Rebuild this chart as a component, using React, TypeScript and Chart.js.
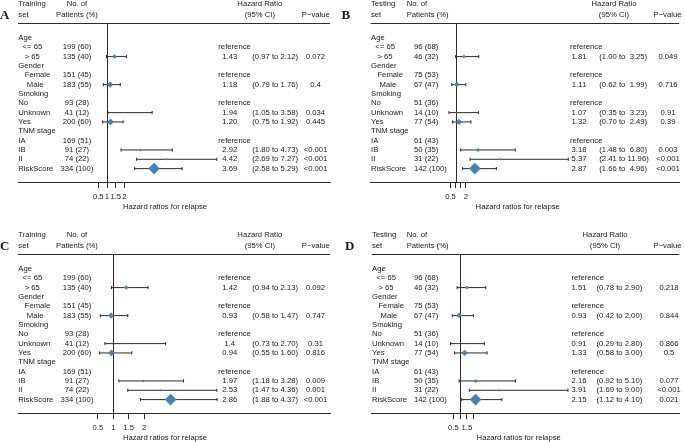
import React, { useEffect, useRef } from "react";
import { Chart, registerables } from "chart.js";

Chart.register(...registerables);

// ---------- DATA ----------
const rowLabels = [
  "Age", "  <= 65", "   > 65", "Gender", "   Female", "    Male",
  "Smoking", "No", "Unknown", "Yes", "TNM stage", "IA", "IB", "II", "RiskScore",
];
const referenceRows = [1, 4, 7, 11];
const estimateRows = [2, 5, 8, 9, 12, 13, 14];

const trainingPatients = [null, 199, 135, null, 151, 183, null, 93, 41, 200, null, 169, 91, 74, 334];
const trainingPercent = [null, 60, 40, null, 45, 55, null, 28, 12, 60, null, 51, 27, 22, 100];
const testingPatients = [null, 96, 46, null, 75, 67, null, 51, 14, 77, null, 61, 50, 31, 142];
const testingPercent = [null, 68, 32, null, 53, 47, null, 36, 10, 54, null, 43, 35, 22, 100];

// Panel A (training set)
const hrA = ["1.43", "1.18", "1.94", "1.20", "2.92", "4.42", "3.69"];
const loA = ["0.97", "0.79", "1.05", "0.75", "1.80", "2.69", "2.58"];
const hiA = ["2.12", "1.76", "3.58", "1.92", "4.73", "7.27", "5.29"];
const pA = ["0.072", "0.4", "0.034", "0.445", "<0.001", "<0.001", "<0.001"];

// Panel B (testing set)
const hrB = ["1.81", "1.11", "1.07", "1.32", "3.18", "5.37", "2.87"];
const loB = ["1.00", "0.62", "0.35", "0.70", "1.48", "2.41", "1.66"];
const hiB = ["3.25", "1.99", "3.23", "2.49", "6.80", "11.96", "4.96"];
const pB = ["0.049", "0.716", "0.91", "0.39", "0.003", "<0.001", "<0.001"];

// Panel C (training set)
const hrC = ["1.42", "0.93", "1.4", "0.94", "1.97", "2.53", "2.86"];
const loC = ["0.94", "0.58", "0.73", "0.55", "1.18", "1.47", "1.88"];
const hiC = ["2.13", "1.47", "2.70", "1.60", "3.28", "4.36", "4.37"];
const pC = ["0.092", "0.747", "0.31", "0.816", "0.009", "0.001", "<0.001"];

// Panel D (testing set)
const hrD = ["1.51", "0.93", "0.91", "1.33", "2.16", "3.91", "2.15"];
const loD = ["0.78", "0.42", "0.29", "0.58", "0.92", "1.69", "1.12"];
const hiD = ["2.90", "2.00", "2.80", "3.00", "5.10", "9.00", "4.10"];
const pD = ["0.218", "0.844", "0.866", "0.5", "0.077", "<0.001", "0.021"];

const tickValues = [0.5, 1, 1.5, 2];
const tickLabelsA = ["0.5", "1", "1.5", "2"];
const tickLabelsB = ["0.5", "", "", "2"];
const tickLabelsC = ["0.5", "1", "1.5", "2"];
const tickLabelsD = ["0.5", "", "1.5", ""];

const axisTitle = "Hazard ratios for relapse";

// ---------- STYLE / LAYOUT ----------
const W = 345;
const H = 211;
const FONT = '"Liberation Sans", Arial, Helvetica, sans-serif';
const FS = 7.7;
const TXT = "#1a1a1a";
const LINE = "#2b2b2b";
const BLUE = "#4682b4";

type Layout = {
  left: number; top: number; letter: string; letterX: number; setLabel: string;
  xMin: number; xMax: number; padL: number; padR: number;
  numX: number; numAlign: CanvasTextAlign; numHeadX: number; numHeadAlign: CanvasTextAlign;
  refX: number; estX: number; ciX: number; pX: number; hrHeadX: number; pHeadX: number;
};

type PanelData = {
  patients: (number | null)[]; percent: (number | null)[];
  hr: string[]; lo: string[]; hi: string[]; p: string[]; tickLabels: string[];
};

const panels: { data: PanelData; layout: Layout }[] = [
  {
    data: { patients: trainingPatients, percent: trainingPercent, hr: hrA, lo: loA, hi: hiA, p: pA, tickLabels: tickLabelsA },
    layout: {
      left: 0, top: 0, letter: "A", letterX: 0, setLabel: "Training",
      xMin: -4.086, xMax: 13.743, padL: 18, padR: 15,
      numX: 77, numAlign: "center", numHeadX: 77, numHeadAlign: "center",
      refX: 218.3, estX: 229.7, ciX: 252.3, pX: 315.5, hrHeadX: 259.8, pHeadX: 315.8,
    },
  },
  {
    data: { patients: testingPatients, percent: testingPercent, hr: hrB, lo: loB, hi: hiB, p: pB, tickLabels: tickLabelsB },
    layout: {
      left: 340, top: 0, letter: "B", letterX: 1.5, setLabel: "Testing",
      xMin: -7.27, xMax: 22.76, padL: 30.7, padR: 2,
      numX: 74, numAlign: "left", numHeadX: 66.7, numHeadAlign: "left",
      refX: 230, estX: 239, ciX: 259.3, pX: 328, hrHeadX: 274, pHeadX: 327.5,
    },
  },
  {
    data: { patients: trainingPatients, percent: trainingPercent, hr: hrC, lo: loC, hi: hiC, p: pC, tickLabels: tickLabelsC },
    layout: {
      left: 0, top: 231, letter: "C", letterX: 0, setLabel: "Training",
      xMin: -2.094, xMax: 8.036, padL: 18, padR: 15,
      numX: 77, numAlign: "center", numHeadX: 77, numHeadAlign: "center",
      refX: 218.3, estX: 229.7, ciX: 252.3, pX: 315.5, hrHeadX: 259.8, pHeadX: 315.8,
    },
  },
  {
    data: { patients: testingPatients, percent: testingPercent, hr: hrD, lo: loD, hi: hiD, p: pD, tickLabels: tickLabelsD },
    layout: {
      left: 340, top: 231, letter: "D", letterX: 5, setLabel: "Testing",
      xMin: -5.557, xMax: 17.25, padL: 31.7, padR: 2,
      numX: 74, numAlign: "left", numHeadX: 66.7, numHeadAlign: "left",
      refX: 231.5, estX: 239, ciX: 256.5, pX: 329, hrHeadX: 265, pHeadX: 327.5,
    },
  },
];

function buildChart(canvas: HTMLCanvasElement, data: PanelData, L: Layout) {
  const hrV = data.hr.map(parseFloat);
  const loV = data.lo.map(parseFloat);
  const hiV = data.hi.map(parseFloat);
  const nEst = estimateRows.map((r) => data.patients[r] as number);
  const nMin = Math.min(...nEst);
  const nMax = Math.max(...nEst);
  const radii = nEst.map((n) => 0.6 + (5.2 * (n - nMin)) / (nMax - nMin));
  const hiWidth = Math.max(...data.hi.map((s) => s.length));

  const ciDatasets = estimateRows.map((r, i) => ({
    label: "ci" + i,
    data: [{ x: loV[i], y: r }, { x: hiV[i], y: r }],
    showLine: true,
    pointRadius: 0,
    borderColor: LINE,
    borderWidth: 1,
  }));

  const plugin = {
    id: "forestText" + L.letter,
    beforeDatasetsDraw(chart: any) {
      const { ctx, chartArea } = chart;
      const xs = chart.scales.x;
      ctx.save();
      ctx.strokeStyle = LINE;
      ctx.lineWidth = 1;
      ctx.beginPath();
      const hy = Math.round(chartArea.top) + 0.5;
      ctx.moveTo(chartArea.left, hy);
      ctx.lineTo(chartArea.right, hy);
      const vx = Math.round(xs.getPixelForValue(1)) + 0.5;
      ctx.moveTo(vx, chartArea.top);
      ctx.lineTo(vx, chartArea.bottom);
      ctx.stroke();
      ctx.restore();
    },
    afterDraw(chart: any) {
      const { ctx, chartArea } = chart;
      const ys = chart.scales.y;
      const top = chartArea.top;
      ctx.save();
      ctx.fillStyle = TXT;
      ctx.textBaseline = "middle";
      ctx.font = `${FS}px ${FONT}`;
      const put = (s: string, x: number, y: number, a: CanvasTextAlign) => {
        ctx.textAlign = a;
        ctx.fillText(s, x, y);
      };
      const h1 = top - 18.7;
      const h2 = top - 8;
      put(L.setLabel, chartArea.left + 0.3, h1, "left");
      put("set", chartArea.left + 0.3, h2, "left");
      put("No. of", L.numHeadX, h1, L.numHeadAlign);
      put("Patients (%)", L.numHeadX, h2, L.numHeadAlign);
      put("Hazard Ratio", L.hrHeadX, h1, "center");
      put("(95% CI)", L.hrHeadX, h2, "center");
      put("P\u2212value", L.pHeadX, h2, "center");

      rowLabels.forEach((lab, r) => {
        const y = ys.getPixelForValue(r);
        put(lab, chartArea.left + 0.3, y, "left");
        const n = data.patients[r];
        if (n !== null) put(`${n} (${data.percent[r]})`, L.numX, y, L.numAlign);
      });
      referenceRows.forEach((r) => put("reference", L.refX, ys.getPixelForValue(r), "left"));
      estimateRows.forEach((r, i) => {
        const y = ys.getPixelForValue(r);
        put(data.hr[i], L.estX, y, "center");
        put(`(${data.lo[i]} to ${data.hi[i].padStart(hiWidth, " ")})`, L.ciX, y, "left");
        put(data.p[i], L.pX, y, "center");
      });

      put(axisTitle, chartArea.left + 147, chartArea.bottom + 24.5, "center");

      ctx.font = `bold 13px "Liberation Serif", "Times New Roman", serif`;
      ctx.textBaseline = "alphabetic";
      put(L.letter, L.letterX, 19, "left");
      ctx.restore();
    },
  };

  return new Chart(canvas, {
    type: "scatter",
    data: {
      datasets: [
        {
          label: "HR",
          data: estimateRows.map((r, i) => ({ x: hrV[i], y: r })),
          pointStyle: "rectRot",
          pointRadius: radii,
          pointHoverRadius: radii,
          backgroundColor: BLUE,
          borderColor: BLUE,
          borderWidth: 0,
        },
        {
          label: "caps",
          data: estimateRows.flatMap((r, i) => [{ x: loV[i], y: r }, { x: hiV[i], y: r }]),
          pointStyle: "line",
          rotation: 90,
          pointRadius: 1.6,
          borderColor: LINE,
          borderWidth: 1,
        },
        ...ciDatasets,
      ] as any,
    },
    options: {
      responsive: false,
      animation: false,
      events: [],
      layout: { padding: { left: L.padL, right: L.padR, top: 23, bottom: 5.6 } },
      plugins: { legend: { display: false }, tooltip: { enabled: false } },
      scales: {
        x: {
          type: "linear",
          position: "bottom",
          min: L.xMin,
          max: L.xMax,
          afterBuildTicks: (scale: any) => {
            scale.ticks = tickValues.map((v) => ({ value: v }));
          },
          border: { display: true, color: LINE, width: 1 },
          grid: { display: true, drawOnChartArea: false, drawTicks: true, tickLength: 6, color: LINE, tickWidth: 1 },
          ticks: {
            autoSkip: false,
            maxRotation: 0,
            padding: 4,
            color: TXT,
            font: { family: FONT, size: FS },
            callback: (_v: any, i: number) => data.tickLabels[i],
          },
        },
        y: { type: "linear", display: false, reverse: true, min: -1.6, max: 15.45 },
      },
    } as any,
    plugins: [plugin],
  });
}

function Panel({ data, layout }: { data: PanelData; layout: Layout }) {
  const ref = useRef<HTMLCanvasElement | null>(null);
  useEffect(() => {
    if (!ref.current) return;
    const chart = buildChart(ref.current, data, layout);
    return () => chart.destroy();
  }, []);
  return (
    <div style={{ position: "absolute", left: layout.left, top: layout.top, width: W, height: H }}>
      <canvas ref={ref} width={W} height={H} style={{ display: "block", width: W, height: H }} />
    </div>
  );
}

export default function App() {
  return (
    <div style={{ position: "absolute", left: 0, top: 0, width: 685, height: 442, background: "#fff", overflow: "hidden" }}>
      {panels.map((p, i) => (
        <Panel key={i} data={p.data} layout={p.layout} />
      ))}
    </div>
  );
}
